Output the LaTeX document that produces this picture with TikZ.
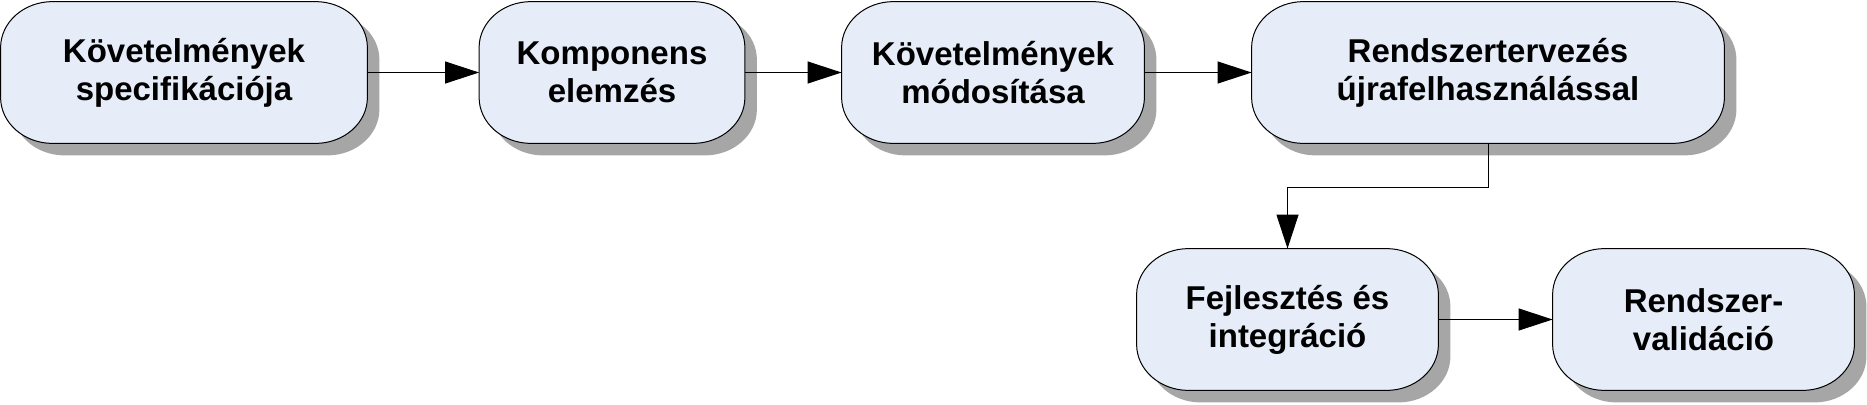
\documentclass[tikz,border=0pt]{standalone}
\usepackage{fontspec}
\setmainfont{Liberation Sans}
\usetikzlibrary{arrows.meta,backgrounds,calc}
\definecolor{boxfill}{RGB}{230,237,248}
\definecolor{shadowc}{RGB}{166,166,166}
% #1 node name, #2 x offset, #3 y offset
\newcommand\pillp[3]{let \p1=(#1.south west),\p2=(#1.north east) in
  (\x1+26pt+#2,\y2+#3) -- (\x2-26pt+#2,\y2+#3)
  arc[start angle=90,end angle=0,x radius=26pt,y radius=23pt]
  -- (\x2+#2,\y1+23pt+#3)
  arc[start angle=0,end angle=-90,x radius=26pt,y radius=23pt]
  -- (\x1+26pt+#2,\y1+#3)
  arc[start angle=270,end angle=180,x radius=26pt,y radius=23pt]
  -- (\x1+#2,\y2-23pt+#3)
  arc[start angle=180,end angle=90,x radius=26pt,y radius=23pt]
  -- cycle}
\newcommand\pillbox[1]{%
  \fill[shadowc] \pillp{#1}{6pt}{-6pt};
  \filldraw[fill=boxfill,draw=black,line width=0.5pt] \pillp{#1}{0pt}{0pt};}
\tikzset{
  pill/.style={rectangle,draw=none,inner sep=0pt,minimum height=70.5pt,
    align=center,font=\fontsize{16.5pt}{19pt}\selectfont\bfseries},
  conn/.style={draw=black,line width=0.5pt,-{Triangle[length=17pt,width=11pt]}}
}
\begin{document}
\begin{tikzpicture}[x=0.5pt,y=0.5pt]
\useasboundingbox (0,0) rectangle (1867,404);
\node[pill,minimum width=183pt] (b1) at (184,331.5) {Követelmények\\specifikációja};
\node[pill,minimum width=132.5pt] (b2) at (612,331.5) {Komponens\\elemzés};
\node[pill,minimum width=151pt] (b3) at (993,331.5) {Követelmények\\módosítása};
\node[pill,minimum width=236pt] (b4) at (1488,331.5) {Rendszertervezés\\újrafelhasználással};
\node[pill,minimum width=150.5pt] (b5) at (1287.5,84.5) {Fejlesztés és\\integráció};
\node[pill,minimum width=150.5pt] (b6) at (1703.5,84.5) {Rendszer-\\validáció};
\coordinate (elb) at (0,217);
\begin{scope}[on background layer]
\pillbox{b1}
\pillbox{b2}
\pillbox{b3}
\pillbox{b4}
\pillbox{b5}
\pillbox{b6}
\end{scope}
\draw[conn] (b1) -- (b2);
\draw[conn] (b2) -- (b3);
\draw[conn] (b3) -- (b4);
\draw[conn] (b4.south) -- (b4.south |- elb) -| (b5.north);
\draw[conn] (b5) -- (b6);
\end{tikzpicture}
\end{document}
